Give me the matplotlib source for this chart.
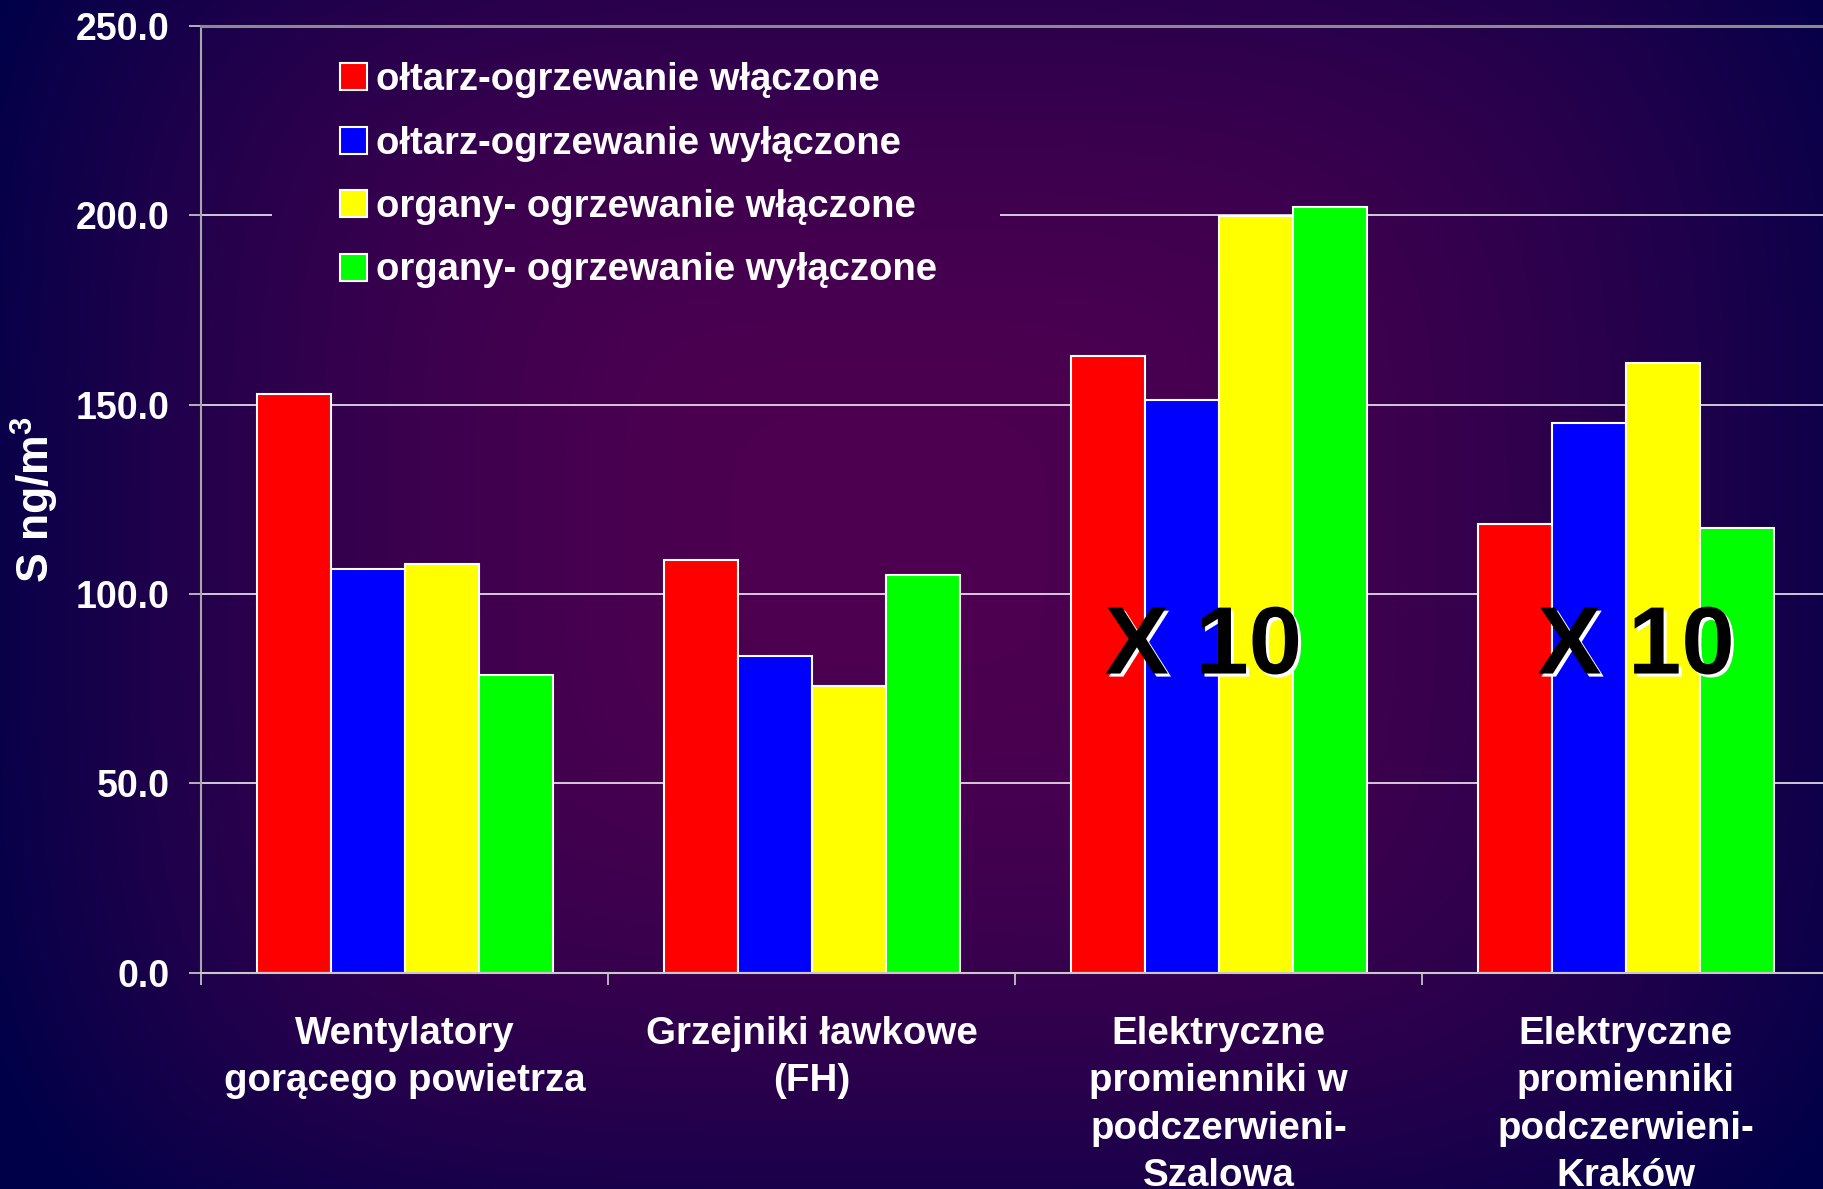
import numpy as np
import matplotlib
matplotlib.use("Agg")
import matplotlib.pyplot as plt
import matplotlib.patheffects as pe
from matplotlib.ticker import FormatStrFormatter

# ---------------- data ----------------
categories = [
    "Wentylatory\ngorącego powietrza",
    "Grzejniki ławkowe\n(FH)",
    "Elektryczne\npromienniki w\npodczerwieni-\nSzalowa",
    "Elektryczne\npromienniki\npodczerwieni-\nKraków",
]
series_labels = [
    "ołtarz-ogrzewanie włączone",
    "ołtarz-ogrzewanie wyłączone",
    "organy- ogrzewanie włączone",
    "organy- ogrzewanie wyłączone",
]
altar_on = [152.8, 108.9, 162.9, 118.4]
altar_off = [106.7, 83.7, 151.2, 145.1]
organ_on = [108.0, 75.8, 199.7, 161.0]
organ_off = [78.5, 104.9, 202.1, 117.5]
series_colors = ["#FF0000", "#0000FF", "#FFFF00", "#00FF00"]
y_ticks = [0, 50, 100, 150, 200, 250]
annotation_text = "X 10"
annotated_categories = [2, 3]
annotation_offsets = [-0.037, 0.026]
annotation_y = 79
y_label = "S ng/m$^{3}$"

# ---------------- style ----------------
plt.rcParams["font.family"] = ["Liberation Sans", "DejaVu Sans"]
plt.rcParams["font.weight"] = "bold"
plt.rcParams["axes.labelweight"] = "bold"
plt.rcParams["mathtext.fontset"] = "custom"
plt.rcParams["mathtext.rm"] = "Liberation Sans:bold"
plt.rcParams["mathtext.it"] = "Liberation Sans:bold"
plt.rcParams["mathtext.bf"] = "Liberation Sans:bold"

W, H = 1823, 1189
fig = plt.figure(figsize=(W / 100, H / 100), dpi=100)

# background gradient (purple centre -> navy edges)
yy, xx = np.mgrid[0:H, 0:W].astype(float)
cx, cy = 880.0, 539.0
hx = np.where(xx < cx, 930.0, 1045.0)
tx = np.abs(xx - cx) / hx
ty = np.abs(yy - cy) / 793.0
t = np.clip((tx ** 4 + ty ** 4) ** 0.25, 0, 1)
s = t ** 2
bg_arr = np.dstack([78 * (1 - s), np.zeros_like(s), 80 - 8 * s]) / 255.0

bg = fig.add_axes([0, 0, 1, 1], zorder=-10)
bg.imshow(bg_arr, aspect="auto", extent=(0, 1, 0, 1), origin="upper",
          interpolation="bilinear")
bg.set_axis_off()

# ---------------- main axes ----------------
ax = fig.add_axes([201 / W, 1 - 972.7 / H, 1628 / W, (972.7 - 26) / H], zorder=0)
ax.set_facecolor("none")

series = [altar_on, altar_off, organ_on, organ_off]
n = len(series)
width = 1 / (n + 1.5)
x = np.arange(len(categories))
handles = []
for i, (vals, col) in enumerate(zip(series, series_colors)):
    b = ax.bar(x + (i - (n - 1) / 2) * width, vals, width, color=col,
               edgecolor="white", linewidth=1.5, zorder=2)
    handles.append(b)

ax.set_xlim(-0.5, len(categories) - 0.5)
ax.set_ylim(y_ticks[0], y_ticks[-1])
ax.set_yticks(y_ticks)
ax.yaxis.set_major_formatter(FormatStrFormatter("%.1f"))
ax.tick_params(axis="y", colors="#D0D0D0", length=8.6, width=1.2, direction="out",
               pad=14, labelsize=27, labelcolor="white")

ax.set_xticks(x)
ax.set_xticklabels(categories, fontsize=27.7, color="white", linespacing=1.41)
ax.set_xticks(np.arange(len(categories) + 1) - 0.5, minor=True)
ax.tick_params(axis="x", which="major", length=0, pad=31)
ax.tick_params(axis="x", which="minor", length=8.6, width=1.2, colors="#D0D0D0")

ax.yaxis.grid(True, color="white", linewidth=1.1)
ax.set_axisbelow(True)

ax.spines["right"].set_visible(False)
ax.spines["top"].set_color("#8A8A8A")
ax.spines["top"].set_linewidth(2.2)
ax.spines["left"].set_color("#A8A8A8")
ax.spines["left"].set_linewidth(1.5)
ax.spines["bottom"].set_color("#C8C8C8")
ax.spines["bottom"].set_linewidth(1.5)

ax.set_ylabel(y_label, fontsize=32, color="white", fontweight="bold")
ax.yaxis.set_label_coords(-0.086, 0.5)

for ci, off in zip(annotated_categories, annotation_offsets):
    ax.text(ci + off, annotation_y, annotation_text, fontsize=69, fontweight="bold",
            color="black", ha="center", va="baseline", zorder=5,
            path_effects=[pe.withSimplePatchShadow(offset=(2.2, -2.2),
                                                   shadow_rgbFace="white", alpha=1.0)])

# ---------------- legend ----------------
leg = fig.legend(handles, series_labels, loc="upper left",
                 bbox_to_anchor=(340 / W, 1 - 62 / H), bbox_transform=fig.transFigure,
                 frameon=False, borderpad=0, borderaxespad=0,
                 handlelength=0.71, handleheight=0.71, handletextpad=0.24,
                 labelspacing=0.72, fontsize=27.5, labelcolor="white")
leg.set_zorder(10)
for h in leg.legend_handles:
    h.set_edgecolor("white")
    h.set_linewidth(1.5)

# cover gridlines behind the legend box with the background
fig.canvas.draw()
bb = leg.get_window_extent()
x0 = int(max(bb.x0 - 68, 0)); x1 = int(min(bb.x1 + 63, W))
y0 = int(max(bb.y0 - 10, 0)); y1 = int(min(bb.y1 + 10, H))
cover = fig.add_axes([x0 / W, y0 / H, (x1 - x0) / W, (y1 - y0) / H], zorder=1)
cover.imshow(bg_arr[H - y1:H - y0, x0:x1], aspect="auto", origin="upper",
             interpolation="bilinear")
cover.set_axis_off()

fig.savefig("out.png", dpi=100)
